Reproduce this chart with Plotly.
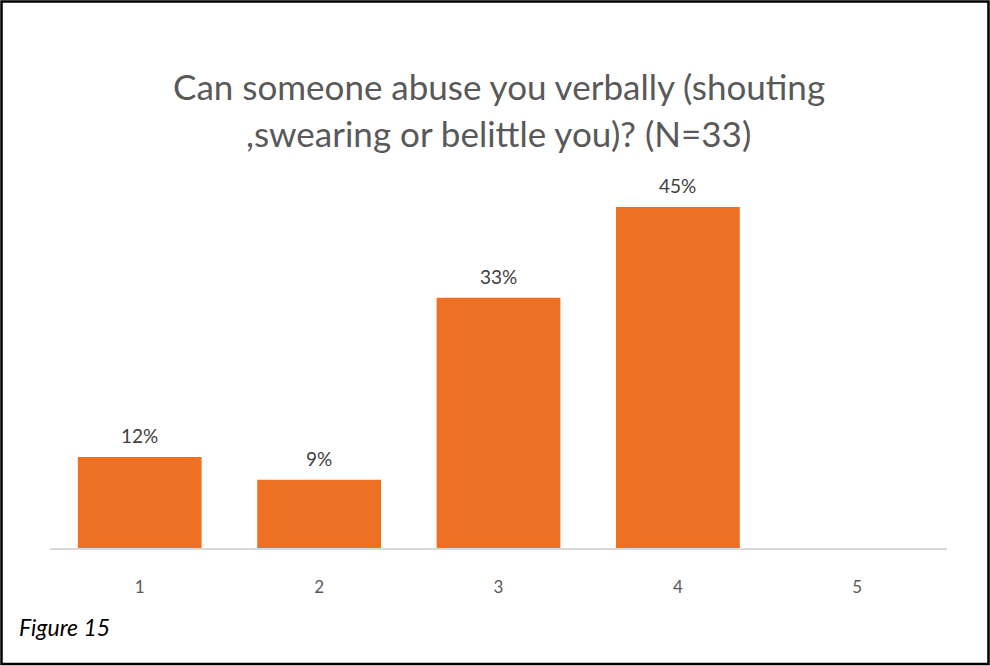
import plotly.graph_objects as go

categories = ["1", "2", "3", "4", "5"]
shares = [12, 9, 33, 45, None]
title_lines = ["Can someone abuse you verbally (shouting", ",swearing or belittle you)? (N=33)"]
caption = "Figure 15"

W, H = 990, 666
L, R, T, B = 50, 43, 169, 118
pw, ph = W - L - R, H - T - B


def px_x(px):
    return (px - L) / pw


def px_y(py):
    return (H - B - py) / ph


bar_color = "#ED7023"
fig = go.Figure(
    go.Bar(
        x=categories,
        y=[v if v is not None else 0 for v in shares],
        marker=dict(color=bar_color, line=dict(width=0)),
        hoverinfo="skip",
    )
)

annotations = []
for i, v in enumerate(shares):
    if v is None:
        continue
    annotations.append(dict(
        x=i, y=v, xref="x", yref="y", text=f"{v}%", showarrow=False,
        yanchor="bottom", yshift=8,
        font=dict(family="Lato", size=19, color="#404040"),
    ))

for line, py in zip(title_lines, [86, 133]):
    annotations.append(dict(
        x=0.5, xref="paper", y=px_y(py), yref="paper", text=line,
        showarrow=False, xanchor="center", yanchor="middle",
        font=dict(family="Lato", size=35, color="#595959"),
    ))

annotations.append(dict(
    x=px_x(17), xref="paper", y=px_y(627), yref="paper", text=f"<i>{caption}</i>",
    showarrow=False, xanchor="left", yanchor="middle",
    font=dict(family="Lato", size=23, color="#000000"),
))

fig.update_layout(
    width=W, height=H,
    margin=dict(l=L, r=R, t=T, b=B, pad=0),
    paper_bgcolor="white", plot_bgcolor="white",
    bargap=0.31,
    showlegend=False,
    annotations=annotations,
    shapes=[dict(
        type="rect", xref="paper", yref="paper",
        x0=px_x(1.5), x1=px_x(988.5), y0=px_y(664), y1=px_y(1.5),
        line=dict(color="black", width=2.5), fillcolor="rgba(0,0,0,0)",
    )],
    xaxis=dict(
        type="category",
        showline=True, linecolor="#D9D9D9", linewidth=1.5,
        ticks="outside", ticklen=23, tickcolor="rgba(0,0,0,0)",
        tickfont=dict(family="Lato", size=17, color="#595959"),
        showgrid=False, zeroline=False, fixedrange=True,
    ),
    yaxis=dict(
        range=[0, 50], visible=False, showgrid=False, zeroline=False,
    ),
)

fig.write_html("out.html")
